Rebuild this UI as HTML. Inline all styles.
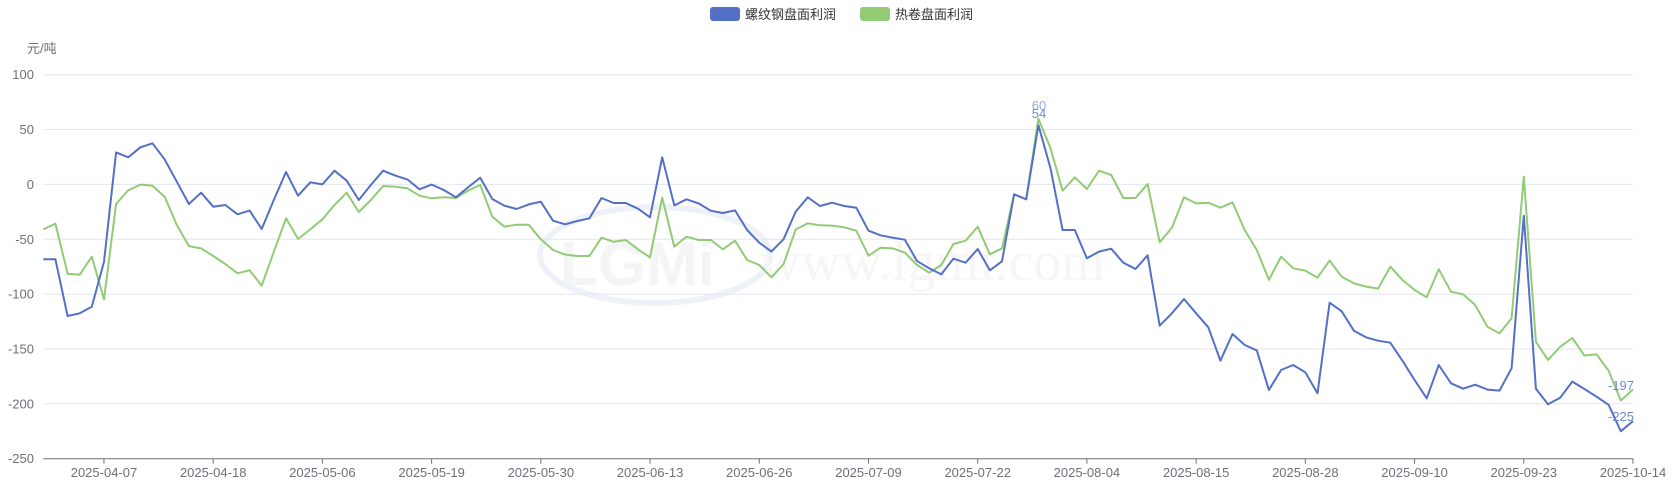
<!DOCTYPE html>
<html><head><meta charset="utf-8"><style>
html,body{margin:0;padding:0;background:#fff;}
svg{display:block;font-family:"Liberation Sans","Noto Sans CJK SC",sans-serif;}
</style></head><body>
<svg id="c" width="1679" height="486" xmlns="http://www.w3.org/2000/svg">
<rect width="1679" height="486" fill="#fff"/>
<g opacity="0.5">
<ellipse cx="655" cy="255" rx="115" ry="48" fill="none" stroke="#dfe6f3" stroke-width="6"/>
<text x="560" y="285" font-size="62" font-weight="bold" fill="#ececec" font-family="Liberation Sans, sans-serif">LGMi</text>
<text x="760" y="280" font-size="56" fill="#efefef" font-family="Liberation Serif, serif">www.lgmi.com</text>
</g>
<g id="grid"></g>
<line x1="43.3" y1="458.7" x2="1633" y2="458.7" stroke="#6e7079" stroke-width="1"/>
<g id="ticks"></g>
<text x="27" y="53" font-size="13" fill="#6e7079">元/吨</text>
<rect x="710" y="7" width="30" height="14" rx="3" fill="#5470c6"/>
<text x="745" y="19" font-size="13" fill="#333">螺纹钢盘面利润</text>
<rect x="860" y="7" width="30" height="14" rx="3" fill="#91cc75"/>
<text x="895" y="19" font-size="13" fill="#333">热卷盘面利润</text>
<polyline id="g" fill="none" stroke="#91cc75" stroke-width="2" stroke-linejoin="round"/>
<polyline id="b" fill="none" stroke="#5470c6" stroke-width="2" stroke-linejoin="round"/>
<text x="1039" y="110" font-size="13" fill="#91a8e8" text-anchor="middle">60</text>
<text x="1039" y="118" font-size="13" fill="#6f8ad6" text-anchor="middle">54</text>
<text x="1621" y="390" font-size="13" fill="#6f8ad6" text-anchor="middle">-197</text>
<text x="1621" y="421" font-size="13" fill="#6f8ad6" text-anchor="middle">-225</text>
</svg>
<script>
var B=[-68.3,-68.3,-120,-117.5,-111.5,-70.5,29.2,24.7,33.8,37.5,22.9,2.5,-17.9,-7.6,-20.3,-18.8,-27.3,-23.9,-40.7,-14,11.3,-10.3,1.9,0,12.5,3.4,-14.2,-0.5,12.5,8,4.6,-4.5,-0.2,-5.1,-11.8,-2.7,6.1,-13.3,-19.4,-22.4,-18.2,-15.8,-33.1,-36.4,-33.4,-31,-12.4,-17,-17,-22.1,-30,24.7,-19.1,-13.6,-17.3,-24,-26.1,-23.7,-41.6,-53.1,-61.3,-50,-24.8,-11.8,-19.7,-16.7,-19.7,-21.2,-42.2,-46.4,-48.6,-50.4,-69.8,-76.5,-82,-67.7,-71.4,-58.9,-78.3,-70.1,-9,-13.6,54,14.7,-41.6,-41.6,-67.4,-61.3,-58.6,-71.4,-77.1,-64.6,-128.8,-117.5,-104.5,-117.5,-130.3,-160.7,-136.4,-146.4,-151.3,-187.4,-169.2,-164.6,-171.3,-190.4,-107.8,-115.7,-133.4,-139.4,-142.5,-144.3,-160.7,-178.3,-195,-164.6,-181.3,-186.2,-182.6,-187.1,-188,-167.6,-28.5,-186.2,-200.5,-194.4,-179.8,-186.5,-193.5,-201,-225,-215.8];
var G=[-41,-35.8,-81.4,-82.3,-65.9,-104.8,-17.9,-5.4,-0.2,-1.2,-11.2,-37,-56.2,-58.3,-65.3,-72.6,-81,-78.3,-92.3,-61.3,-30.9,-49.8,-41,-31.8,-18.8,-7.6,-25.2,-14.2,-1.5,-2.1,-3.6,-10.3,-12.7,-11.8,-12.4,-5.7,-0.5,-29.4,-38.6,-36.7,-36.7,-50,-59.8,-64,-65.3,-65.3,-48.6,-52.3,-50.7,-59.2,-66.5,-12.1,-56.8,-47.7,-50.7,-50.7,-59.2,-51.3,-68.9,-73.5,-84.7,-72.8,-41,-35.5,-37.3,-37.6,-39.1,-42.2,-65,-57.7,-58.3,-62.2,-73.5,-80.5,-73.5,-54.3,-51.3,-38.6,-63.7,-58.3,-9,-13.6,60,32.9,-5.7,6.5,-4.2,12.5,8.6,-12.4,-12.4,0.4,-52.8,-39.5,-11.8,-17.3,-16.7,-21.2,-16.4,-41.6,-59.8,-87.1,-65.9,-76.5,-78.6,-85,-69.5,-84.1,-90.2,-93.2,-95,-75,-87.1,-96.3,-102.9,-77.4,-97.8,-100.2,-109.9,-129.7,-135.8,-122,7,-143.4,-160,-148,-140,-156,-155,-170,-197,-187];
function X(i){return 43.3+i*12.135;}
function Y(v){return 184.4-v*1.097;}
function pts(a){return a.map(function(v,i){return X(i).toFixed(1)+","+Y(v).toFixed(1);}).join(" ");}
document.getElementById("b").setAttribute("points",pts(B));
document.getElementById("g").setAttribute("points",pts(G));
var ns="http://www.w3.org/2000/svg",gr=document.getElementById("grid"),tk=document.getElementById("ticks");
for(var v=100;v>=-200;v-=50){var y=Y(v);var l=document.createElementNS(ns,"line");l.setAttribute("x1",43.3);l.setAttribute("x2",1633);l.setAttribute("y1",y);l.setAttribute("y2",y);l.setAttribute("stroke","#e0e6f1");gr.appendChild(l);}
for(var v=100;v>=-250;v-=50){var t=document.createElementNS(ns,"text");t.setAttribute("x",34);t.setAttribute("y",Y(v)+4.5);t.setAttribute("text-anchor","end");t.setAttribute("font-size","13");t.setAttribute("fill","#6e7079");t.textContent=v;gr.appendChild(t);}
var labs=["2025-04-07","2025-04-18","2025-05-06","2025-05-19","2025-05-30","2025-06-13","2025-06-26","2025-07-09","2025-07-22","2025-08-04","2025-08-15","2025-08-28","2025-09-10","2025-09-23","2025-10-14"];
for(var k=0;k<labs.length;k++){var x=X(5+9*k);var l=document.createElementNS(ns,"line");l.setAttribute("x1",x);l.setAttribute("x2",x);l.setAttribute("y1",458.7);l.setAttribute("y2",463.7);l.setAttribute("stroke","#6e7079");tk.appendChild(l);
var t=document.createElementNS(ns,"text");t.setAttribute("x",x);t.setAttribute("y",477);t.setAttribute("text-anchor","middle");t.setAttribute("font-size","13");t.setAttribute("fill","#6e7079");t.textContent=labs[k];tk.appendChild(t);}
</script>
</body></html>
